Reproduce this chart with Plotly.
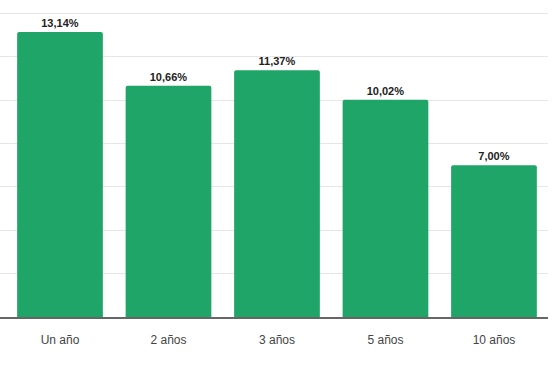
import plotly.graph_objects as go

categories = ["Un año", "2 años", "3 años", "5 años", "10 años"]
values = [13.14, 10.66, 11.37, 10.02, 7.00]
labels = [f"{v:.2f}%".replace(".", ",") for v in values]

fig = go.Figure(go.Bar(
    x=categories, y=values,
    text=labels, textposition="outside",
    textfont=dict(size=11, color="#222222", family="Liberation Sans"),
    texttemplate="<b>%{text}</b>",
    marker=dict(color="#1fa567", cornerradius=2, line=dict(width=0)),
    cliponaxis=False,
))
fig.update_layout(
    width=560, height=371,
    margin=dict(l=0, r=12, t=12, b=54),
    paper_bgcolor="white", plot_bgcolor="white",
    bargap=0.21, showlegend=False,
    font=dict(family="Liberation Sans", color="#444444", size=12),
)
fig.update_xaxes(range=[-0.553, 4.498], showline=True, linecolor="#666666", linewidth=1.5,
                 ticks="", ticklabelstandoff=11, showgrid=False, tickfont=dict(size=12, color="#444444"))
fig.update_yaxes(range=[0, 14.06], dtick=2, showticklabels=False, gridcolor="#e6e6e6",
                 gridwidth=1, zeroline=False)
fig.write_html("out.html", post_script="document.body.style.margin='0';",
               config={"displayModeBar": False})
